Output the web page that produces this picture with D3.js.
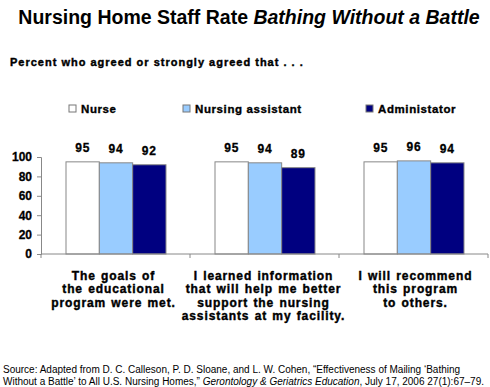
<!DOCTYPE html>
<html><head><meta charset="utf-8">
<script src="https://cdn.jsdelivr.net/npm/d3@7"></script>
<style>body{margin:0;background:#fff}svg{display:block;font-family:"Liberation Sans",Arial,sans-serif}</style>
</head><body>
<script>
const categories = [
  ["The goals of","the educational","program were met."],
  ["I learned information","that will help me better","support the nursing","assistants at my facility."],
  ["I will recommend","this program","to others."]
];
const seriesNames = ["Nurse","Nursing assistant","Administator"];
const nurse = [95,95,95];
const assistant = [94,94,96];
const administrator = [92,89,94];
const yTicks = [0,20,40,60,80,100];
const colors = ["#ffffff","#99ccff","#000080"];
const series = [nurse, assistant, administrator];

const W=490,H=387;
const svg=d3.select("body").append("svg").attr("width",W).attr("height",H);

svg.append("text").attr("x",249).attr("y",24).attr("text-anchor","middle")
  .attr("font-size",19.5).attr("font-weight","bold")
  .call(t=>{t.append("tspan").text("Nursing Home Staff Rate ");t.append("tspan").attr("font-style","italic").text("Bathing Without a Battle");});

svg.append("text").attr("x",10).attr("y",66).attr("font-size",11).attr("font-weight","bold")
  .attr("stroke","#000").attr("stroke-width",0.4).attr("letter-spacing",1)
  .text("Percent who agreed or strongly agreed that . . .");

const x0=d3.scaleBand().domain(d3.range(categories.length)).range([41,488]).paddingInner(0).paddingOuter(0);
const x1=d3.scaleBand().domain(d3.range(series.length)).range([25,x0.bandwidth()-24]);
const y=d3.scaleLinear().domain([0,100]).range([254,157]);

// legend
const legX=[69,183,366];
seriesNames.forEach((n,i)=>{
  svg.append("rect").attr("x",legX[i]).attr("y",105).attr("width",7).attr("height",7)
    .attr("fill",colors[i]).attr("stroke","#777").attr("stroke-width",1);
  svg.append("text").attr("x",legX[i]+12).attr("y",113).attr("font-size",11.5).attr("font-weight","bold")
    .attr("stroke","#000").attr("stroke-width",0.35).attr("letter-spacing",0.6).text(n);
});

// bars
const g=svg.append("g");
categories.forEach((c,ci)=>{
  series.forEach((s,si)=>{
    const bx=x0(ci)+x1(si);
    g.append("rect").attr("x",bx).attr("y",y(s[ci])).attr("width",x1.bandwidth()).attr("height",y(0)-y(s[ci]))
      .attr("fill",colors[si]).attr("stroke","#888").attr("stroke-width",1);
    g.append("text").attr("x",bx+x1.bandwidth()/2).attr("y",y(s[ci])-10).attr("text-anchor","middle")
      .attr("font-size",12).attr("font-weight","bold").attr("stroke","#000").attr("stroke-width",0.3)
      .attr("letter-spacing",0.8).text(s[ci]);
  });
});

// y axis
const ya=svg.append("g").attr("transform","translate(41,0)")
  .call(d3.axisLeft(y).tickValues(yTicks).tickSize(4).tickPadding(5));
ya.select(".domain").attr("stroke","#888");
ya.selectAll(".tick line").attr("stroke","#888");
ya.selectAll("text").attr("font-size",12).attr("font-weight","bold").attr("font-family","Liberation Sans, Arial, sans-serif")
  .attr("fill","#000").attr("stroke","#000").attr("stroke-width",0.3);

// x axis
const xa=svg.append("g").attr("transform","translate(0,254)");
xa.append("line").attr("x1",41).attr("x2",488).attr("stroke","#888");
d3.range(categories.length+1).forEach(i=>{
  const xx=i<categories.length?x0(i):x0(categories.length-1)+x0.bandwidth();
  xa.append("line").attr("x1",xx).attr("x2",xx).attr("y1",0).attr("y2",4).attr("stroke","#888");
});

// category labels
const catOffset=[-2,-1,2];
categories.forEach((c,ci)=>{
  const t=svg.append("text").attr("text-anchor","middle").attr("font-size",12).attr("font-weight","bold")
    .attr("stroke","#000").attr("stroke-width",0.4).attr("letter-spacing",0.9).attr("word-spacing",1);
  c.forEach((line,li)=>t.append("tspan").attr("x",x0(ci)+x0.bandwidth()/2+catOffset[ci]).attr("y",280+li*13.4).text(line));
});

// source
const src=svg.append("text").attr("font-size",10).attr("fill","#000");
src.append("tspan").attr("x",3).attr("y",373).text("Source: Adapted from D. C. Calleson, P. D. Sloane, and L. W. Cohen, \u201cEffectiveness of Mailing \u2018Bathing");
const l2=src.append("tspan").attr("x",3).attr("y",385);
l2.append("tspan").text("Without a Battle\u2019 to All U.S. Nursing Homes,\u201d ");
l2.append("tspan").attr("font-style","italic").text("Gerontology & Geriatrics Education");
l2.append("tspan").text(", July 17, 2006 27(1):67\u201379.");
</script>
</body></html>
